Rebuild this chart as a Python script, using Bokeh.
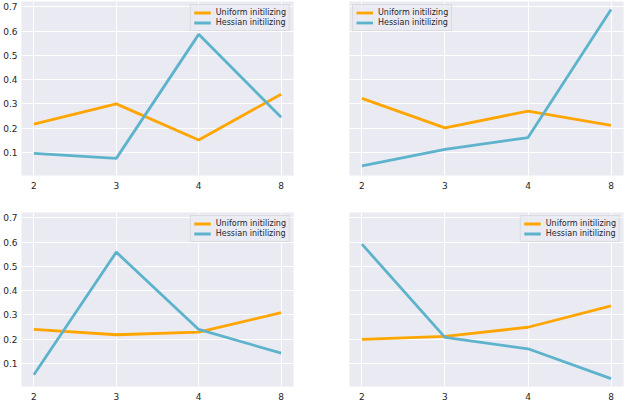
from bokeh.plotting import figure
from bokeh.layouts import column, row
from bokeh.models import FixedTicker, Range1d, Legend, LegendItem
from bokeh.embed import file_html
from bokeh.resources import INLINE

categories = ["2", "3", "4", "8"]
y_ticks = [0.1, 0.2, 0.3, 0.4, 0.5, 0.6, 0.7]

uniform_tl = [0.216, 0.300, 0.151, 0.340]
hessian_tl = [0.096, 0.075, 0.587, 0.245]
uniform_tr = [0.323, 0.201, 0.270, 0.211]
hessian_tr = [0.044, 0.112, 0.161, 0.690]
uniform_bl = [0.240, 0.218, 0.229, 0.309]
hessian_bl = [0.053, 0.559, 0.240, 0.142]
uniform_br = [0.199, 0.211, 0.249, 0.337]
hessian_br = [0.592, 0.207, 0.160, 0.037]

labels = ["Uniform initilizing", "Hessian initilizing"]
colors = ["#FFA500", "#5EB3CC"]
FONT = "DejaVu Sans"
BG = "#EAEAF2"

x_idx = list(range(len(categories)))
all_vals = (uniform_tl + hessian_tl + uniform_tr + hessian_tr +
            uniform_bl + hessian_bl + uniform_br + hessian_br)
lo, hi = min(all_vals), max(all_vals)
pad = 0.05 * (hi - lo)
x_pad = 0.05 * (len(categories) - 1)


def make(uni, hes, left, top, legend_loc):
    w = 312
    min_left = 20 if left else 37
    min_right = 19 if left else 1
    min_top = 1 if top else 12
    min_bottom = 25 if top else 17
    h = 200 if top else 203
    p = figure(width=w, height=h, output_backend="svg", toolbar_location=None,
               x_range=Range1d(-x_pad, len(categories) - 1 + x_pad),
               y_range=Range1d(lo - pad, hi + pad),
               min_border_left=min_left, min_border_right=min_right,
               min_border_top=min_top, min_border_bottom=min_bottom)
    p.background_fill_color = BG
    p.border_fill_color = "white"
    p.outline_line_color = None
    for ax in (p.xaxis[0], p.yaxis[0]):
        ax.axis_line_color = None
        ax.major_tick_line_color = None
        ax.minor_tick_line_color = None
        ax.major_tick_out = 0
        ax.major_tick_in = 0
        ax.major_label_text_font = FONT
        ax.major_label_text_font_size = "9px"
        ax.major_label_text_color = "#262626"
    p.xaxis.ticker = FixedTicker(ticks=x_idx)
    p.xaxis.major_label_overrides = {i: c for i, c in zip(x_idx, categories)}
    p.xaxis.major_label_standoff = 6
    p.yaxis.ticker = FixedTicker(ticks=y_ticks)
    p.yaxis.major_label_standoff = 4
    p.xgrid.ticker = FixedTicker(ticks=x_idx)
    p.ygrid.ticker = FixedTicker(ticks=y_ticks)
    p.grid.grid_line_color = "white"
    p.grid.grid_line_width = 1
    if not left:
        p.yaxis.visible = False
    r1 = p.line(x_idx, uni, line_color=colors[0], line_width=2.8)
    r2 = p.line(x_idx, hes, line_color=colors[1], line_width=2.8)
    leg = Legend(items=[LegendItem(label=labels[0], renderers=[r1]),
                        LegendItem(label=labels[1], renderers=[r2])],
                 location=legend_loc)
    leg.label_text_font = FONT
    leg.label_text_font_size = "8px"
    leg.label_text_color = "#262626"
    leg.label_height = 9
    leg.glyph_height = 9
    leg.glyph_width = 17
    leg.label_standoff = 5
    leg.spacing = 1
    leg.padding = 3
    leg.margin = 3
    leg.background_fill_color = BG
    leg.background_fill_alpha = 0.8
    leg.border_line_color = "#CCCCCC"
    leg.border_line_width = 1
    p.add_layout(leg)
    return p


p1 = make(uniform_tl, hessian_tl, True, True, "top_right")
p2 = make(uniform_tr, hessian_tr, False, True, "top_left")
p3 = make(uniform_bl, hessian_bl, True, False, "top_right")
p4 = make(uniform_br, hessian_br, False, False, "top_right")

layout = column(row(p1, p2), row(p3, p4))
open("out.html", "w").write(file_html(layout, INLINE))
